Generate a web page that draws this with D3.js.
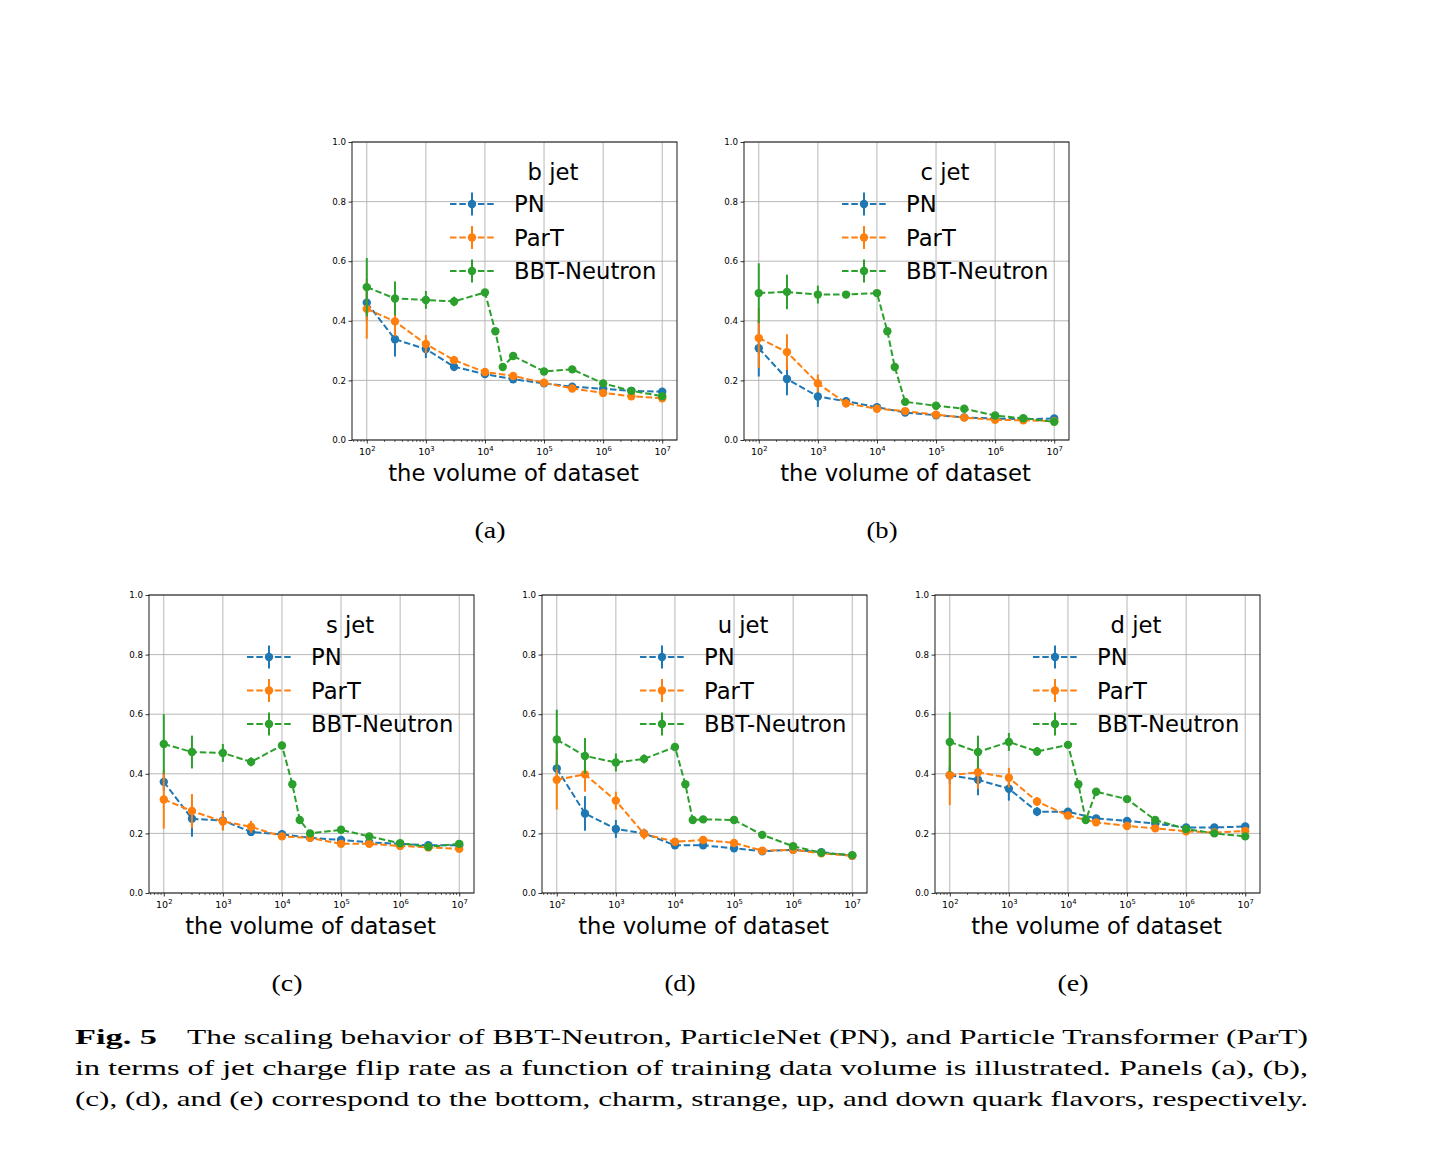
<!DOCTYPE html>
<html>
<head>
<meta charset="utf-8">
<script src="https://cdn.jsdelivr.net/npm/d3@7"></script>
<style>
  html, body { margin: 0; padding: 0; background: #fff; }
  svg { display: block; }
</style>
</head>
<body>
<svg id="fig" width="1444" height="1150"></svg>
<script>
// ---------------- DATA ----------------
const xModels = [1e2, 3e2, 1e3, 3e3, 1e4, 3e4, 1e5, 3e5, 1e6, 3e6, 1e7];
const xBBT    = [1e2, 3e2, 1e3, 3e3, 1e4, 1.5e4, 2e4, 3e4, 1e5, 3e5, 1e6, 3e6, 1e7];
const seriesNames = ["PN", "ParT", "BBT-Neutron"];
const seriesColors = ["#1f77b4", "#ff7f0e", "#2ca02c"];
const yTicks = [0.0, 0.2, 0.4, 0.6, 0.8, 1.0];
const xTickExps = [2, 3, 4, 5, 6, 7];

// (a) b jet
const bPN      = [0.461, 0.338, 0.305, 0.246, 0.221, 0.204, 0.190, 0.179, 0.172, 0.165, 0.162];
const bPNErr   = [0.060, 0.058, 0.030, 0.015, 0.006, 0.005, 0.004, 0.004, 0.003, 0.003, 0.003];
const bParT    = [0.440, 0.398, 0.322, 0.268, 0.228, 0.215, 0.192, 0.173, 0.158, 0.147, 0.140];
const bParTErr = [0.100, 0.050, 0.030, 0.013, 0.006, 0.005, 0.004, 0.004, 0.003, 0.003, 0.003];
const bBBT     = [0.513, 0.475, 0.470, 0.465, 0.495, 0.365, 0.245, 0.282, 0.230, 0.237, 0.190, 0.165, 0.147];
const bBBTErr  = [0.098, 0.057, 0.030, 0.016, 0.006, 0.005, 0.005, 0.005, 0.004, 0.004, 0.003, 0.003, 0.003];

// (b) c jet
const cPN      = [0.308, 0.205, 0.146, 0.130, 0.110, 0.092, 0.083, 0.076, 0.072, 0.070, 0.072];
const cPNErr   = [0.095, 0.055, 0.035, 0.012, 0.006, 0.005, 0.004, 0.004, 0.003, 0.003, 0.003];
const cParT    = [0.342, 0.295, 0.190, 0.123, 0.105, 0.097, 0.085, 0.075, 0.068, 0.066, 0.063];
const cParTErr = [0.100, 0.060, 0.030, 0.014, 0.006, 0.005, 0.004, 0.004, 0.003, 0.003, 0.003];
const cBBT     = [0.493, 0.497, 0.488, 0.488, 0.493, 0.365, 0.245, 0.128, 0.115, 0.105, 0.082, 0.073, 0.061];
const cBBTErr  = [0.100, 0.058, 0.030, 0.012, 0.006, 0.005, 0.005, 0.005, 0.004, 0.004, 0.003, 0.003, 0.003];

// (c) s jet
const sPN      = [0.373, 0.249, 0.243, 0.205, 0.197, 0.185, 0.178, 0.170, 0.165, 0.160, 0.160];
const sPNErr   = [0.030, 0.060, 0.032, 0.012, 0.006, 0.005, 0.004, 0.004, 0.003, 0.003, 0.003];
const sParT    = [0.314, 0.275, 0.240, 0.222, 0.190, 0.185, 0.165, 0.165, 0.158, 0.153, 0.148];
const sParTErr = [0.098, 0.057, 0.030, 0.020, 0.006, 0.005, 0.004, 0.004, 0.003, 0.003, 0.003];
const sBBT     = [0.500, 0.473, 0.470, 0.440, 0.495, 0.365, 0.245, 0.200, 0.212, 0.190, 0.167, 0.155, 0.165];
const sBBTErr  = [0.100, 0.055, 0.030, 0.015, 0.006, 0.005, 0.005, 0.005, 0.004, 0.004, 0.003, 0.003, 0.003];

// (d) u jet
const uPN      = [0.418, 0.267, 0.215, 0.200, 0.160, 0.160, 0.150, 0.140, 0.145, 0.137, 0.125];
const uPNErr   = [0.030, 0.058, 0.030, 0.015, 0.006, 0.005, 0.004, 0.004, 0.003, 0.003, 0.003];
const uParT    = [0.380, 0.398, 0.310, 0.198, 0.172, 0.178, 0.168, 0.142, 0.145, 0.133, 0.125];
const uParTErr = [0.100, 0.058, 0.030, 0.018, 0.006, 0.005, 0.004, 0.004, 0.003, 0.003, 0.003];
const uBBT     = [0.515, 0.460, 0.438, 0.450, 0.490, 0.365, 0.245, 0.247, 0.245, 0.195, 0.157, 0.135, 0.127];
const uBBTErr  = [0.100, 0.060, 0.030, 0.015, 0.006, 0.005, 0.005, 0.005, 0.004, 0.004, 0.003, 0.003, 0.003];

// (e) d jet
const dPN      = [0.395, 0.380, 0.350, 0.273, 0.273, 0.250, 0.242, 0.233, 0.220, 0.220, 0.223];
const dPNErr   = [0.030, 0.052, 0.040, 0.015, 0.006, 0.005, 0.004, 0.004, 0.003, 0.003, 0.003];
const dParT    = [0.395, 0.405, 0.387, 0.307, 0.260, 0.237, 0.225, 0.217, 0.207, 0.203, 0.208];
const dParTErr = [0.100, 0.055, 0.033, 0.015, 0.006, 0.005, 0.004, 0.004, 0.003, 0.003, 0.003];
const dBBT     = [0.507, 0.473, 0.507, 0.475, 0.497, 0.365, 0.245, 0.340, 0.315, 0.245, 0.215, 0.200, 0.190];
const dBBTErr  = [0.100, 0.055, 0.030, 0.015, 0.006, 0.005, 0.005, 0.005, 0.004, 0.004, 0.003, 0.003, 0.003];

const panelTitles = ["b jet", "c jet", "s jet", "u jet", "d jet"];
const panelLabels = ["(a)", "(b)", "(c)", "(d)", "(e)"];
const xAxisLabel = "the volume of dataset";
const captionBold = "Fig. 5";
const captionLines = [
  "The scaling behavior of BBT-Neutron, ParticleNet (PN), and Particle Transformer (ParT)",
  "in terms of jet charge flip rate as a function of training data volume is illustrated. Panels (a), (b),",
  "(c), (d), and (e) correspond to the bottom, charm, strange, up, and down quark flavors, respectively."
];

// ---------------- LAYOUT ----------------
const panelPos = [[352, 142], [744, 142], [149, 595], [542, 595], [935, 595]];
const panelData = [
  [[bPN, bPNErr], [bParT, bParTErr], [bBBT, bBBTErr]],
  [[cPN, cPNErr], [cParT, cParTErr], [cBBT, cBBTErr]],
  [[sPN, sPNErr], [sParT, sParTErr], [sBBT, sBBTErr]],
  [[uPN, uPNErr], [uParT, uParTErr], [uBBT, uBBTErr]],
  [[dPN, dPNErr], [dParT, dParTErr], [dBBT, dBBTErr]]
];
const W = 325, H = 298;
const sans = "'DejaVu Sans', sans-serif";
const serif = "'Liberation Serif', 'DejaVu Serif', serif";
const bigFont = 22.7;

const svg = d3.select("#fig");
svg.append("rect").attr("width", 1444).attr("height", 1150).attr("fill", "#fff");

panelPos.forEach(([x0, y0], pi) => {
  const g = svg.append("g").attr("transform", `translate(${x0},${y0})`);
  const x = d3.scaleLog().domain([Math.pow(10, 1.75), Math.pow(10, 7.25)]).range([0, W]);
  const y = d3.scaleLinear().domain([0, 1]).range([H, 0]);

  // grid
  const grid = g.append("g");
  xTickExps.forEach(e => {
    grid.append("line").attr("x1", x(Math.pow(10, e))).attr("x2", x(Math.pow(10, e)))
      .attr("y1", 0).attr("y2", H).attr("stroke", "#b0b0b0").attr("stroke-width", 0.9);
  });
  yTicks.forEach(v => {
    grid.append("line").attr("x1", 0).attr("x2", W).attr("y1", y(v)).attr("y2", y(v))
      .attr("stroke", "#b0b0b0").attr("stroke-width", 0.9);
  });

  // x axis (log) with superscript labels
  const xAxis = d3.axisBottom(x)
    .tickValues(xTickExps.map(e => Math.pow(10, e)))
    .tickSize(3.5).tickPadding(3)
    .tickFormat(() => "");
  const gx = g.append("g").attr("transform", `translate(0,${H})`).call(xAxis);
  gx.select(".domain").remove();
  gx.selectAll("line").attr("stroke", "#000").attr("stroke-width", 0.8);
  gx.selectAll(".tick").each(function(d) {
    const t = d3.select(this).select("text");
    t.text(null).attr("font-family", sans).attr("font-size", 9.5).attr("fill", "#000")
      .attr("dy", null).attr("y", 15).attr("text-anchor", "middle");
    t.append("tspan").text("10");
    t.append("tspan").attr("font-size", 6.8).attr("dy", -4.2).text(String(Math.round(Math.log10(d))));
  });
  // minor ticks
  const minor = [];
  for (let e = 1; e <= 7; e++) for (let m = 2; m <= 9; m++) {
    const v = m * Math.pow(10, e);
    if (v >= x.domain()[0] && v <= x.domain()[1]) minor.push(v);
  }
  g.append("g").selectAll("line").data(minor).join("line")
    .attr("x1", d => x(d)).attr("x2", d => x(d)).attr("y1", H).attr("y2", H + 2)
    .attr("stroke", "#000").attr("stroke-width", 0.6);

  const yAxis = d3.axisLeft(y).tickValues(yTicks).tickSize(3.5).tickPadding(2.5).tickFormat(d3.format(".1f"));
  const gy = g.append("g").call(yAxis);
  gy.select(".domain").remove();
  gy.selectAll("text").attr("font-family", sans).attr("font-size", 8.7).attr("fill", "#000");
  gy.selectAll("line").attr("stroke", "#000").attr("stroke-width", 0.8);

  // series
  panelData[pi].forEach(([vals, errs], si) => {
    const xs = si === 2 ? xBBT : xModels;
    const pts = vals.map((v, i) => ({x: xs[i], y: v, e: errs[i]}));
    const col = seriesColors[si];
    const sg = g.append("g");
    sg.append("path").datum(pts)
      .attr("d", d3.line().x(d => x(d.x)).y(d => y(d.y)))
      .attr("fill", "none").attr("stroke", col).attr("stroke-width", 2)
      .attr("stroke-dasharray", "6.5,2.8");
    sg.selectAll("line.err").data(pts).join("line").attr("class", "err")
      .attr("x1", d => x(d.x)).attr("x2", d => x(d.x))
      .attr("y1", d => y(d.y - d.e)).attr("y2", d => y(d.y + d.e))
      .attr("stroke", col).attr("stroke-width", 2);
    sg.selectAll("circle").data(pts).join("circle")
      .attr("cx", d => x(d.x)).attr("cy", d => y(d.y)).attr("r", 4.2).attr("fill", col);
  });

  // spines
  g.append("rect").attr("x", 0).attr("y", 0).attr("width", W).attr("height", H)
    .attr("fill", "none").attr("stroke", "#000").attr("stroke-width", 0.9);

  // legend
  const lg = g.append("g");
  lg.append("text").attr("x", 201).attr("y", 38).attr("text-anchor", "middle")
    .attr("font-family", sans).attr("font-size", bigFont).attr("fill", "#000").text(panelTitles[pi]);
  seriesNames.forEach((nm, si) => {
    const cy = 62 + si * 33.5;
    const col = seriesColors[si];
    lg.append("line").attr("x1", 98).attr("x2", 144).attr("y1", cy).attr("y2", cy)
      .attr("stroke", col).attr("stroke-width", 2).attr("stroke-dasharray", "6.5,2.8");
    lg.append("line").attr("x1", 120).attr("x2", 120).attr("y1", cy - 11.5).attr("y2", cy + 11.5)
      .attr("stroke", col).attr("stroke-width", 2);
    lg.append("circle").attr("cx", 120).attr("cy", cy).attr("r", 4.2).attr("fill", col);
    lg.append("text").attr("x", 162).attr("y", cy + 8).attr("font-family", sans)
      .attr("font-size", bigFont).attr("fill", "#000").text(nm);
  });

  // axis label
  g.append("text").attr("x", W / 2 - 1).attr("y", H + 41).attr("text-anchor", "middle")
    .attr("font-family", sans).attr("font-size", bigFont).attr("fill", "#000").text(xAxisLabel);

  // sub-caption
  g.append("text").attr("x", W / 2 - 40).attr("y", H + 98)
    .attr("font-family", serif).attr("font-size", 23)
    .attr("textLength", 31).attr("lengthAdjust", "spacingAndGlyphs")
    .attr("fill", "#000").text(panelLabels[pi]);
});

// caption
const cap = svg.append("g").attr("font-family", serif).attr("font-size", 21).attr("fill", "#000");
const capBase = [1044, 1075, 1106];
cap.append("text").attr("x", 75).attr("y", capBase[0]).attr("font-weight", "bold")
  .attr("textLength", 157 - 75).attr("lengthAdjust", "spacingAndGlyphs").text(captionBold);
cap.append("text").attr("x", 187).attr("y", capBase[0])
  .attr("textLength", 1308 - 187).attr("lengthAdjust", "spacingAndGlyphs").text(captionLines[0]);
cap.append("text").attr("x", 75).attr("y", capBase[1])
  .attr("textLength", 1308 - 75).attr("lengthAdjust", "spacingAndGlyphs").text(captionLines[1]);
cap.append("text").attr("x", 75).attr("y", capBase[2])
  .attr("textLength", 1308 - 75).attr("lengthAdjust", "spacingAndGlyphs").text(captionLines[2]);
</script>
</body>
</html>
